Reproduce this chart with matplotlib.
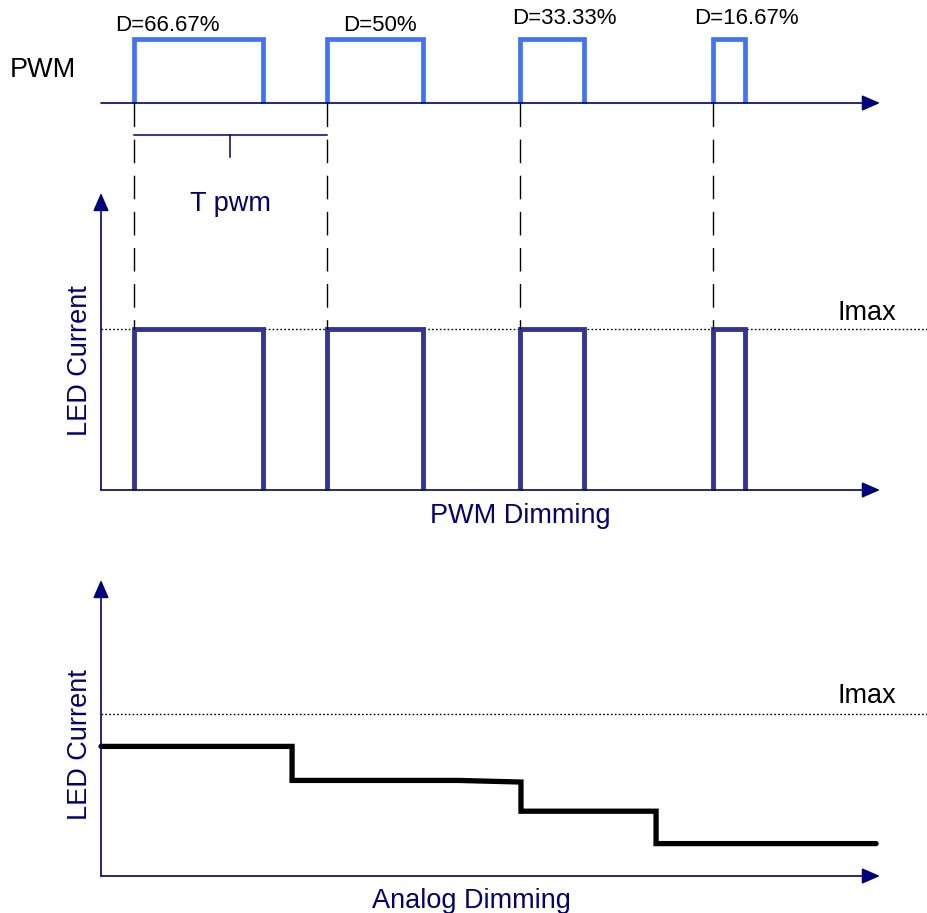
import matplotlib.pyplot as plt

plt.rcParams['font.family'] = ['Liberation Sans', 'DejaVu Sans']

# данные: один период = 1, начало первого импульса = 0
period = 1.0
pulse_starts = [0.0, 1.0, 2.0, 3.0]
duty = [0.6667, 0.50, 0.3333, 0.1667]
duty_labels = ['D=66.67%', 'D=50%', 'D=33.33%', 'D=16.67%']
label_x = [0.174, 1.275, 2.228, 3.174]
label_y = [1.12, 1.12, 1.23, 1.23]

# аналоговое диммирование (доли от Imax)
analog_x = [-0.171, 0.819, 0.819, 1.679, 2.005, 2.005, 2.705, 2.705, 3.845]
analog_y = [0.80, 0.80, 0.59, 0.59, 0.58, 0.40, 0.40, 0.20, 0.20]

imax = 1.0
t_axis = (-0.171, 3.865)

W, H = 928, 913
navy = '#000080'
pwm_blue = '#3F72FF'
led_blue = '#333399'

fig = plt.figure(figsize=(W / 100, H / 100), dpi=100)

x_lim = (-134 / 193, (W - 134) / 193)


def panel(ptop, pbot, base_px, unit_px):
    ax = fig.add_axes([0, 1 - pbot / H, 1, (pbot - ptop) / H])
    ax.set_xlim(*x_lim)
    ax.set_ylim((base_px - pbot) / unit_px, (base_px - ptop) / unit_px)
    ax.axis('off')
    ax.patch.set_alpha(0)
    return ax


def arrow(ax, start, tip):
    ax.annotate('', xy=tip, xytext=start,
                arrowprops=dict(arrowstyle='-|>,head_length=0.55,head_width=0.24',
                                color=navy, lw=1.2, shrinkA=0, shrinkB=0,
                                mutation_scale=20))


def pulse_xy(start, d, high):
    return [start, start, start + d * period, start + d * period], [0, high, high, 0]


# ---- PWM ----
ax1 = panel(0, 250, 103, 64)
arrow(ax1, (t_axis[0], 0), (t_axis[1], 0))
for s, d in zip(pulse_starts, duty):
    xs, ys = pulse_xy(s, d, 1)
    ax1.plot(xs, ys, color=pwm_blue, lw=3.4, solid_joinstyle='miter', solid_capstyle='butt')
for lx, ly, lab in zip(label_x, label_y, duty_labels):
    ax1.text(lx, ly, lab, ha='center', va='baseline', fontsize=16, color='black')
ax1.text(-0.47, (103 - 77) / 64, 'PWM', ha='center', va='baseline', fontsize=19.5, color='black')

# T pwm скобка
yb = (103 - 135) / 64
ax1.plot([pulse_starts[0], pulse_starts[0] + period], [yb, yb], color=navy, lw=1.1)
mid = pulse_starts[0] + period / 2
ax1.plot([mid, mid], [yb, (103 - 157) / 64], color=navy, lw=1.1)
ax1.text(mid, (103 - 211) / 64, 'T pwm', ha='center', va='baseline', fontsize=19.5, color=navy)

# ---- LED Current, PWM Dimming ----
ax2 = panel(170, 540, 490, 161)
arrow(ax2, (t_axis[0], 0), (t_axis[1], 0))
arrow(ax2, (t_axis[0], 0), (t_axis[0], (490 - 193) / 161))
ax2.plot([t_axis[0], x_lim[1]], [imax, imax], color='black', lw=1.0, ls=(0, (1.2, 1.6)))
for s, d in zip(pulse_starts, duty):
    xs, ys = pulse_xy(s, d, imax)
    ax2.plot(xs, ys, color=led_blue, lw=3.5, solid_joinstyle='miter', solid_capstyle='butt')
    # пунктир от PWM до Imax
    ax2.plot([s, s], [(490 - 103) / 161, imax], color='black', lw=1.0,
             ls=(0, (17, 9)), clip_on=False)
ax2.text(3.795, (490 - 320) / 161, 'Imax', ha='center', va='baseline', fontsize=19.5, color='black')
ax2.text(-0.28, (490 - 361) / 161, 'LED Current', rotation=90, ha='center', va='center',
         fontsize=19.5, color=navy)
ax2.text((520 - 134) / 193, (490 - 523) / 161, 'PWM Dimming', ha='center', va='baseline',
         fontsize=19.5, color=navy)

# ---- LED Current, Analog Dimming ----
ax3 = panel(560, 913, 876, 162)
arrow(ax3, (t_axis[0], 0), (t_axis[1], 0))
arrow(ax3, (t_axis[0], 0), (t_axis[0], (876 - 580) / 162))
ax3.plot([t_axis[0], x_lim[1]], [imax, imax], color='black', lw=1.0, ls=(0, (1.2, 1.6)))
ax3.plot(analog_x, analog_y, color='black', lw=3.8, solid_joinstyle='miter', solid_capstyle='round')
ax3.text(3.795, (876 - 703) / 162, 'Imax', ha='center', va='baseline', fontsize=19.5, color='black')
ax3.text(-0.28, (876 - 745) / 162, 'LED Current', rotation=90, ha='center', va='center',
         fontsize=19.5, color=navy)
ax3.text((471 - 134) / 193, (876 - 908) / 162, 'Analog Dimming', ha='center', va='baseline',
         fontsize=19.5, color=navy)

fig.savefig('out.png', dpi=100)
